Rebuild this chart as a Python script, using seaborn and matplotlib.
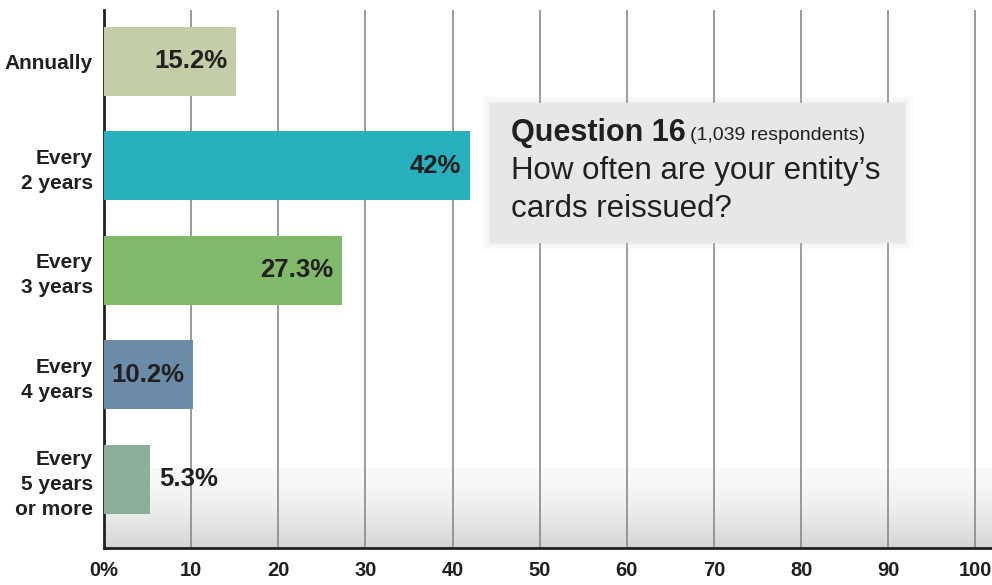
import matplotlib
matplotlib.use("Agg")
import matplotlib.pyplot as plt
import seaborn as sns
import pandas as pd
import numpy as np

categories = ["Annually", "Every\n2 years", "Every\n3 years", "Every\n4 years", "Every\n5 years\nor more"]
percent = [15.2, 42, 27.3, 10.2, 5.3]
value_labels = ["15.2%", "42%", "27.3%", "10.2%", "5.3%"]
bar_colors = ["#c3cda8", "#29b0bf", "#80ba6a", "#6b8ca8", "#8daf9a"]
tick_values = list(range(0, 101, 10))
tick_labels = ["0%"] + [str(v) for v in tick_values[1:]]

data = pd.DataFrame({"category": categories, "percent": percent})

sns.set_style("white")
plt.rcParams["font.family"] = ["Liberation Sans", "DejaVu Sans"]

fig = plt.figure(figsize=(9.92, 5.85), dpi=100)
ax = fig.add_axes([104 / 992, 37 / 585, 888 / 992, 538 / 585])

# grey fade at the bottom of the plot area
grad = np.linspace(0, 1, 100).reshape(-1, 1) ** 1.3
ax.imshow(grad, extent=[0, 101.9, 4.66, 3.9], cmap="Greys", vmin=-0.2, vmax=4.2,
          aspect="auto", zorder=0)

sns.barplot(data=data, y="category", x="percent", hue="category",
            palette=bar_colors, legend=False, width=0.66, saturation=1,
            linewidth=0, edgecolor="none", ax=ax, zorder=3)

ax.set_xlim(0, 101.9)
ax.set_ylim(4.66, -0.49)
ax.set_xticks(tick_values)
ax.set_xticklabels(tick_labels)
for v in tick_values[1:]:
    ax.axvline(v, color="#8a8a8a", lw=1.2, zorder=1)

for i, (v, lab) in enumerate(zip(percent, value_labels)):
    if v > 8:
        ax.text(v - 1.0, i, lab, ha="right", va="center", fontsize=18.5,
                fontweight="bold", color="#231f20", zorder=4)
    else:
        ax.text(v + 1.0, i, lab, ha="left", va="center", fontsize=18.5,
                fontweight="bold", color="#231f20", zorder=4)

ax.set_xlabel("")
ax.set_ylabel("")
ax.tick_params(axis="x", length=0, pad=9, labelsize=14.5, labelcolor="#231f20")
ax.tick_params(axis="y", length=0, pad=8, labelsize=15, labelcolor="#231f20")
for t in ax.get_xticklabels() + ax.get_yticklabels():
    t.set_fontweight("bold")
for t in ax.get_yticklabels():
    t.set_linespacing(1.4)
    t.set_multialignment("right")

for side in ["top", "right"]:
    ax.spines[side].set_visible(False)
ax.spines["left"].set_color("#231f20")
ax.spines["left"].set_linewidth(2)
ax.spines["bottom"].set_color("#231f20")
ax.spines["bottom"].set_linewidth(2)

# question box with a soft shadow edge
x0, y0, w, h = 490 / 992, 1 - 243 / 585, 415 / 992, 140 / 585
for k, a in [(8, 0.06), (5, 0.08), (2, 0.12)]:
    dx, dy = k / 992, k / 585
    fig.add_artist(plt.Rectangle((x0 - dx, y0 - dy), w + 2 * dx, h + 2 * dy,
                                 transform=fig.transFigure, facecolor="#c8c8c8",
                                 edgecolor="none", alpha=a, zorder=5))
fig.add_artist(plt.Rectangle((x0, y0), w, h, transform=fig.transFigure,
                             facecolor="#e6e7e8", edgecolor="none", zorder=6))
fig.text(511 / 992, 1 - 133 / 585, "Question 16", fontsize=22, fontweight="bold",
         color="#231f20", va="center", ha="left", zorder=7)
fig.text(690 / 992, 1 - 135 / 585, "(1,039 respondents)", fontsize=14,
         color="#231f20", va="center", ha="left", zorder=7)
fig.text(511 / 992, 1 - 171 / 585, "How often are your entity\u2019s", fontsize=22.5,
         color="#231f20", va="center", ha="left", zorder=7)
fig.text(511 / 992, 1 - 209 / 585, "cards reissued?", fontsize=22.5,
         color="#231f20", va="center", ha="left", zorder=7)

fig.savefig("out.png", dpi=100)
